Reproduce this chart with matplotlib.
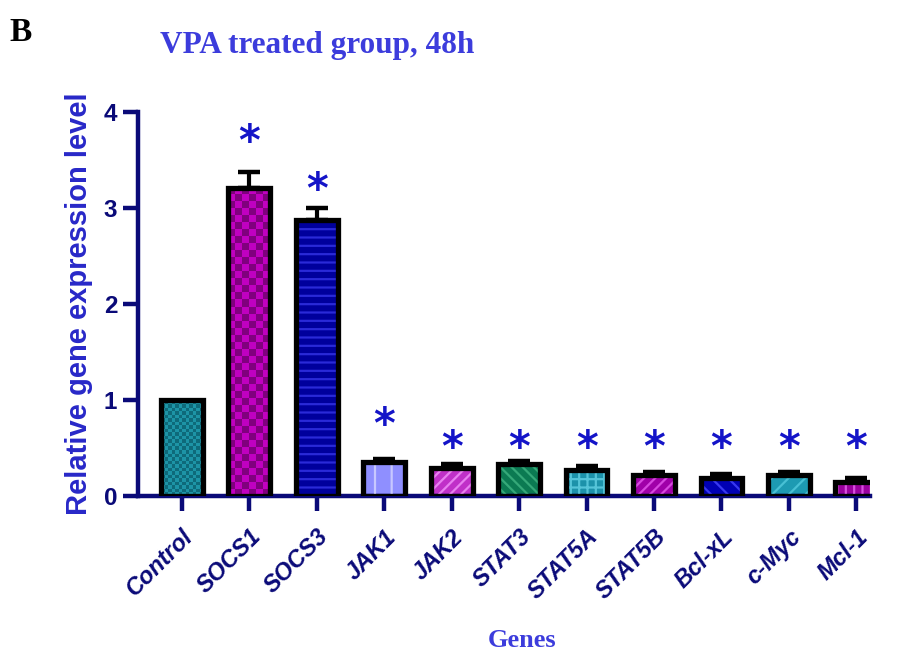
import matplotlib.pyplot as plt
import numpy as np
from matplotlib.colors import ListedColormap

genes = ["Control", "SOCS1", "SOCS3", "JAK1", "JAK2", "STAT3",
         "STAT5A", "STAT5B", "Bcl-xL", "c-Myc", "Mcl-1"]
expr = [1.00, 3.21, 2.88, 0.35, 0.29, 0.33, 0.27, 0.22, 0.19, 0.22, 0.15]
sem = [0.00, 0.17, 0.12, 0.04, 0.04, 0.04, 0.04, 0.03, 0.04, 0.03, 0.04]
signif = [False, True, True, True, True, True, True, True, True, True, True]
star_level = [0, 3.68, 3.18, 0.73, 0.49, 0.49, 0.49, 0.49, 0.49, 0.49, 0.49]

face = ["#1d94a6", "#c000c0", "#00009c", "#8f8fff", "#c030c8", "#0b7a52",
        "#1c92aa", "#a000a8", "#0000b4", "#1d9ab2", "#9a009e"]
hatch_col = ["#0e6a7a", "#80007e", "#2a2ad8", "#c8c8ff", "#e880f0", "#35a878",
             "#55c4d8", "#d848e0", "#3838f0", "#48c0d4", "#d850e0"]
# None -> checkerboard fill (cell size in pixels)
hatches = [None, None, "--", "|", "///", "\\\\\\", "++", "///", "\\\\", "//", "||"]
checker_px = [3.5, 7, 0, 0, 0, 0, 0, 0, 0, 0, 0]

navy = "#0a0a78"
plt.rcParams["hatch.linewidth"] = 1.6

fig = plt.figure(figsize=(8.98, 6.55), dpi=100)
ax = fig.add_axes([0.1537, 0.2427, 0.815, 0.5863])
ax.set_xlim(-0.65, 10.2)
ax.set_ylim(0, 4)


def checker(ax, patch, cell, c1, c2):
    x0, y0 = patch.get_x(), patch.get_y()
    x1, y1 = x0 + patch.get_width(), y0 + patch.get_height()
    p0 = ax.transData.transform((x0, y0))
    p1 = ax.transData.transform((x1, y1))
    nx = int(np.ceil((p1[0] - p0[0]) / cell)) + 1
    ny = int(np.ceil((p1[1] - p0[1]) / cell)) + 1
    sx = (x1 - x0) / (p1[0] - p0[0])
    sy = (y1 - y0) / (p1[1] - p0[1])
    grid = np.add.outer(np.arange(ny), np.arange(nx)) % 2
    im = ax.imshow(grid, cmap=ListedColormap([c1, c2]), origin="lower",
                   extent=[x0, x0 + nx * cell * sx, y0, y0 + ny * cell * sy],
                   interpolation="nearest", aspect="auto", zorder=3)
    im.set_clip_path(patch)


x = np.arange(len(genes))
w = 0.62
for i in range(len(genes)):
    b = ax.bar(x[i], expr[i], w, color=face[i], linewidth=0, zorder=2)
    if hatches[i] is None:
        checker(ax, b[0], checker_px[i], face[i], hatch_col[i])
    else:
        ax.bar(x[i], expr[i], w, color="none", edgecolor=hatch_col[i],
               hatch=hatches[i], linewidth=0, zorder=3)
ax.bar(x, expr, w, color="none", edgecolor="black", linewidth=3.8, zorder=4)

err_idx = [i for i in range(len(genes)) if sem[i] > 0]
ax.errorbar(x[err_idx], np.array(expr)[err_idx],
            yerr=[np.zeros(len(err_idx)), np.array(sem)[err_idx]],
            fmt="none", ecolor="black", elinewidth=3, capsize=8, capthick=3.2,
            zorder=1)

for i in range(len(genes)):
    if signif[i]:
        ax.text(x[i], star_level[i], "*", ha="center", va="center",
                fontsize=30, fontweight="bold", color="#1414c8",
                family="DejaVu Sans")

ax.set_xlim(-0.65, 10.2)
ax.set_ylim(0, 4)
ax.set_yticks([0, 1, 2, 3, 4])
ax.set_xticks(x)
ax.set_xticklabels(genes, rotation=45, ha="right", rotation_mode="anchor",
                   fontsize=17, fontweight="bold", fontstyle="italic",
                   color=navy, family="Liberation Sans")
for t in ax.get_yticklabels():
    t.set_fontsize(17.5)
    t.set_fontweight("bold")
    t.set_color(navy)
    t.set_family("Liberation Sans")

for s in ["top", "right"]:
    ax.spines[s].set_visible(False)
for s in ["left", "bottom"]:
    ax.spines[s].set_color(navy)
    ax.spines[s].set_linewidth(3.2)
ax.tick_params(axis="both", colors=navy, width=3.2, length=11, direction="out")
ax.tick_params(axis="x", pad=10)
ax.tick_params(axis="y", pad=4)

ax.set_ylabel("Relative gene expression level", fontsize=21,
              fontweight="bold", color="#2828c8", family="Liberation Sans",
              labelpad=8)
fig.text(0.178, 0.931, "VPA treated group, 48h", fontsize=22.5, fontweight="bold",
         color="#3c3cdc", family="Liberation Serif", va="center")
fig.text(0.581, 0.022, "Genes", fontsize=19, fontweight="bold",
         color="#3c3cdc", family="Liberation Serif", ha="center", va="center")
fig.text(0.011, 0.95, "B", fontsize=24, fontweight="bold", color="black",
         family="Liberation Serif", va="center")

fig.savefig("out.png", dpi=100)
